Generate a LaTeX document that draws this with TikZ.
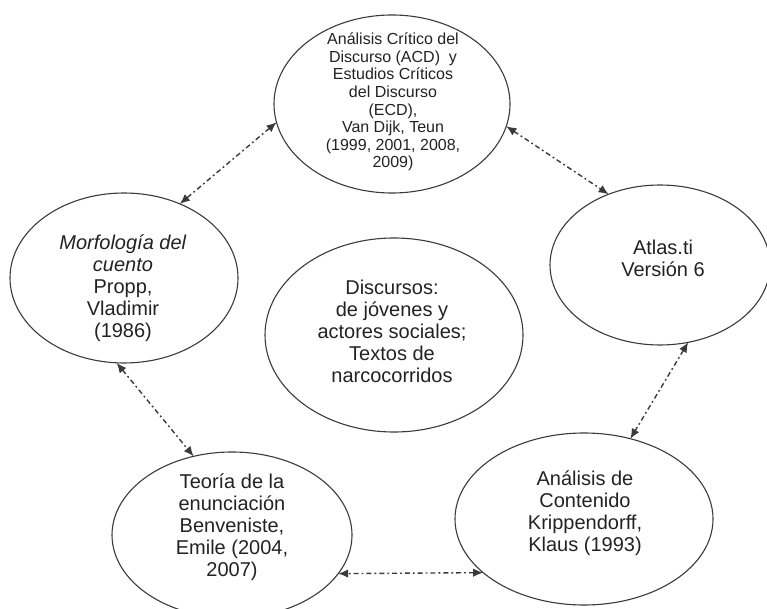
\documentclass[tikz,border=0pt]{standalone}
\usepackage{fontspec}
\setmainfont{Liberation Sans}
\usetikzlibrary{shapes.geometric,arrows.meta}
\definecolor{edgecol}{HTML}{3A3A3A}
\definecolor{txtcol}{HTML}{222222}
\tikzset{
  bubble/.style={ellipse,draw=edgecol,line width=1.1pt,inner sep=0pt,outer sep=0pt},
  bubbletext/.style={align=center,text=txtcol,inner sep=0pt,font={\fontsize{20}{22}\selectfont}},
  smalltext/.style={align=center,text=txtcol,inner sep=0pt,font={\fontsize{16}{17.6}\selectfont}},
  link/.style={draw=edgecol,line width=1.4pt,dash pattern=on 5pt off 3pt on 1.8pt off 3pt,
    {Latex[length=10pt,width=8.5pt]}-{Latex[length=10pt,width=8.5pt]}}
}
\begin{document}
\begin{tikzpicture}[x=1pt,y=1pt]
\useasboundingbox (0,0) rectangle (767,608);
% ellipses
\node[bubble,minimum width=236pt,minimum height=178pt] (acd) at (392,504) {};
\node[bubble,minimum width=228pt,minimum height=170pt] (propp) at (124,330) {};
\node[bubble,minimum width=258pt,minimum height=194pt] (disc) at (394,273) {};
\node[bubble,minimum width=220pt,minimum height=160pt] (atlas) at (660,343) {};
\node[bubble,minimum width=258pt,minimum height=172pt] (krip) at (584,89) {};
\node[bubble,minimum width=240pt,minimum height=166pt] (benv) at (232,73) {};
% texts
\node[smalltext] (acdt) at (393,506) {Análisis Crítico del\\Discurso (ACD)\ \ y\\Estudios Críticos\\del Discurso\\(ECD),\\Van Dijk, Teun\\(1999, 2001, 2008,\\2009)};
\node[bubbletext] (proppt) at (123,320) {\textit{Morfología del}\\\textit{cuento}\\Propp,\\Vladimir\\(1986)};
\node[bubbletext] (disct) at (392,277) {Discursos:\\de jóvenes y\\actores sociales;\\Textos de\\narcocorridos};
\node[bubbletext] (atlast) at (663,350) {Atlas.ti\\Versión 6};
\node[bubbletext] (kript) at (585,95) {Análisis de\\Contenido\\Krippendorff,\\Klaus (1993)};
\node[bubbletext] (benvt) at (232,81) {Teoría de la\\enunciación\\Benveniste,\\Emile (2004,\\2007)};
% connectors
\draw[link] (acd.189) -- (propp.53);
\draw[link] (acd.349) -- (atlas.126);
\draw[link] (atlas.290) -- (krip.60);
\draw[link] (krip.208) -- (benv.340);
\draw[link] (propp.265) -- (benv.116);
\end{tikzpicture}
\end{document}
